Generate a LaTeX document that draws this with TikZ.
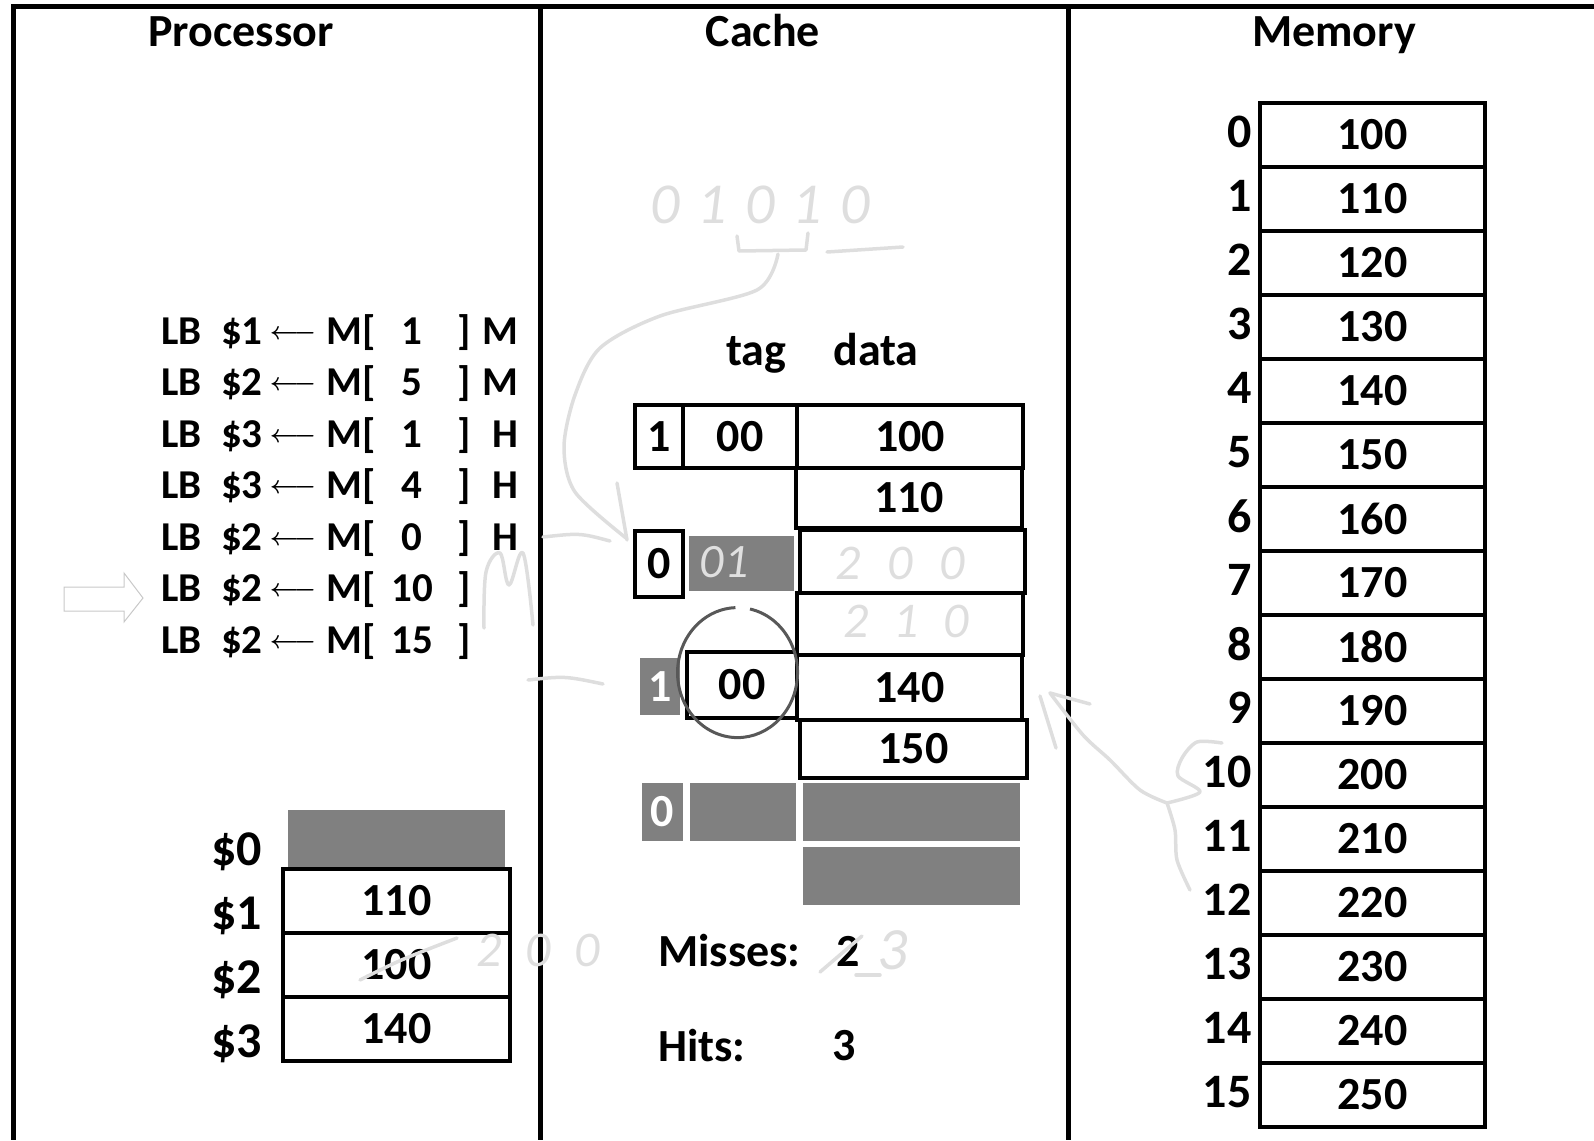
\documentclass[tikz,border=0pt]{standalone}
\usepackage{amsmath}
\usepackage{fontspec}
\setmainfont{Carlito}
\usepackage{tikz}
\usetikzlibrary{positioning}
\definecolor{cellgray}{RGB}{128,128,128}
\definecolor{inkgray}{RGB}{222,222,222}
\definecolor{pengray}{RGB}{88,88,88}
\definecolor{outlinegray}{RGB}{200,200,200}
\newcommand{\cellfont}{\bfseries\fontsize{46}{50}\selectfont}
\newcommand{\instrfont}{\bfseries\fontsize{41}{45}\selectfont}
\newcommand{\labfont}{\bfseries\fontsize{50}{54}\selectfont}
\newcommand{\inkfont}{\itshape\fontsize{50}{54}\selectfont}

\begin{document}
\begin{tikzpicture}[
    x=1pt, y=-1pt,
    frame/.style={line width=5pt},
    cell/.style={rectangle, draw=black, line width=4.5pt, inner sep=0pt, font=\cellfont},
    memcell/.style={cell, minimum width=225pt, minimum height=64pt},
    regcell/.style={cell, minimum width=227pt, minimum height=64pt},
    shade/.style={rectangle, fill=cellgray, inner sep=0pt, font=\cellfont, text=white},
    txt/.style={inner sep=0pt, font=\cellfont},
    idx/.style={inner sep=0pt, font=\bfseries\fontsize{48}{52}\selectfont},
    instr/.style={inner sep=0pt, font=\instrfont},
    reglab/.style={inner sep=0pt, font=\labfont, anchor=base east},
    ink/.style={draw=inkgray, line width=3.5pt, line cap=round, line join=round},
    inktext/.style={inner sep=0pt, text=inkgray, font=\inkfont}
  ]
  \useasboundingbox (0,0) rectangle (1594,1140);

  % frame and columns
  \draw[frame] (11,7) -- (1594,7);
  \draw[frame] (13,5) -- (13,1140);
  \draw[frame] (540,7) -- (540,1140);
  \draw[frame] (1068,7) -- (1068,1140);
  \node[txt, anchor=base] (tproc) at (241,47) {Processor};
  \node[txt, anchor=base] (tcache) at (763,47) {Cache};
  \node[txt, anchor=base] (tmem) at (1334,47) {Memory};

  % memory
  \foreach \i/\v in {0/100,1/110,2/120,3/130,4/140,5/150,6/160,7/170,
                     8/180,9/190,10/200,11/210,12/220,13/230,14/240,15/250} {
    \node[memcell] (mem\i) at (1372.5,{135+64*\i}) {\v};
    \node[idx, left=6pt of mem\i.west, yshift=3pt] (mi\i) {\i};
  }

  % instructions
  \foreach \i/\r/\a/\s in {0/1/1/M,1/2/5/M,2/3/1/H,3/3/4/H,4/2/0/H,5/2/10/,6/2/15/} {
    \node[instr, anchor=base west] (lb\i) at (161,{344+51.5*\i}) {LB};
    \node[instr, anchor=base west] (rg\i) at (221,{344+51.5*\i}) {\$\r};
    \node[instr, anchor=base, yshift=5pt, font=\fontsize{34}{36}\selectfont] (ar\i) at (293,{344+51.5*\i}) {$\boldsymbol{\longleftarrow}$};
    \node[instr, anchor=base west] (mb\i) at (326,{344+51.5*\i}) {M[};
    \node[instr, anchor=base] (ad\i) at (412,{344+51.5*\i}) {\a};
    \node[instr, anchor=base west] (rb\i) at (457,{344+51.5*\i}) {]};
    \node[instr, anchor=base east] (st\i) at (519,{344+51.5*\i}) {\s};
  }
  \draw[outlinegray, line width=1pt] (64,587) -- (124,587) -- (124,573) -- (143,598)
    -- (124,622) -- (124,611) -- (64,611) -- cycle;

  % registers
  \node[shade, minimum width=217pt, minimum height=58pt] (r0) at (396.5,839) {};
  \foreach \i/\v in {1/110,2/100,3/140}
    \node[regcell] (r\i) at (396.5,{837+64*\i}) {\v};
  \foreach \i in {0,...,3}
    \node[reglab] (l\i) at (262,{865+64*\i}) {\$\i};

  % cache
  \node[txt, anchor=base] (htag) at (756,365) {tag};
  \node[txt, anchor=base] (hdata) at (876,365) {data};
  \node[cell, minimum width=48pt, minimum height=63pt] (c1v) at (659,436.5) {1};
  \node[cell, minimum width=114pt, minimum height=63pt] (c1t) at (740,436.5) {00};
  \node[cell, minimum width=226pt, minimum height=63pt] (c1d) at (910,436.5) {100};
  \node[cell, minimum width=226pt, minimum height=60pt] (c2d) at (909,498) {110};
  \node[cell, minimum width=48pt, minimum height=66pt] (c3v) at (659,564) {0};
  \node[shade, draw=white, line width=2pt, minimum width=107pt, minimum height=57pt] (c3t) at (741.5,563.5) {};
  \node[cell, minimum width=225pt, minimum height=63pt] (c3d) at (912.5,561.5) {};
  \node[cell, minimum width=226pt, minimum height=62pt] (c4d) at (910,624) {};
  \node[shade, minimum width=40pt, minimum height=57pt] (c5v) at (660,686.5) {1};
  \node[cell, minimum width=110pt, minimum height=66pt] (c5t) at (742,685) {00};
  \node[cell, minimum width=225pt, minimum height=65pt] (c5d) at (909.5,687.5) {140};
  \node[cell, minimum width=227pt, minimum height=58pt] (c6d) at (913.5,749) {150};
  \node[shade, minimum width=41pt, minimum height=58pt] (c7v) at (662.5,812) {0};
  \node[shade, minimum width=106pt, minimum height=58pt] (c7t) at (743,812) {};
  \node[shade, minimum width=217pt, minimum height=58pt] (c7d) at (911.5,812) {};
  \node[shade, minimum width=217pt, minimum height=58pt] (c8d) at (911.5,876) {};
  \draw[pengray, line width=3pt] (750,609) arc[start angle=-78, end angle=268, x radius=60, y radius=65];

  \node[txt, anchor=west] (miss) at (658,951) {Misses:};
  \node[txt] (nmiss) at (848,951) {2};
  \node[txt, anchor=west] (hits) at (658,1046) {Hits:};
  \node[txt] (nhits) at (844,1046) {3};

  % pen notes
  \node[inktext, font=\itshape\fontsize{58}{60}\selectfont] (addr) at (760,205) {\makebox[220pt][s]{0\hfill1\hfill0\hfill1\hfill0}};
  \draw[ink] (737,236) -- (739,251) -- (806,250) -- (808,233);
  \draw[ink] (827,252) -- (903,247);
  \draw[ink] plot[smooth] coordinates {(778,254) (757,290) (660,316) (600,348) (575,395) (564,447) (575,492) (626,538)};
  \draw[ink] (617,483) -- (627,540);
  \draw[ink] (543,537) .. controls (580,533) .. (610,541);
  \node[inktext, font=\itshape\fontsize{48}{50}\selectfont, text=white!88!black] (t01) at (724,562) {01};
  \node[inktext] (d200) at (900,563) {\makebox[130pt][s]{2\hfill0\hfill0}};
  \node[inktext] (d210) at (906,621) {\makebox[125pt][s]{2\hfill1\hfill0}};
  \draw[ink] plot[smooth, tension=0.6] coordinates {(484,628) (486,572) (500,553) (509,585) (523,553) (533,625)};
  \draw[ink] (528,680) .. controls (565,676) .. (603,684);
  \draw[ink] plot[smooth] coordinates {(1222,743) (1197,742) (1182,758) (1178,776) (1200,792) (1167,803)};
  \draw[ink] plot[smooth] coordinates {(1167,803) (1175,830) (1177,860) (1190,890)};
  \draw[ink] plot[smooth] coordinates {(1167,803) (1140,790) (1110,760) (1083,735) (1050,693)};
  \draw[ink] (1050,693) -- (1090,704);
  \draw[ink] (1040,696) -- (1056,748);
  \draw[ink] (360,980) .. controls (400,960) .. (457,938);
  \node[inktext] (r200) at (538,950) {\makebox[123pt][s]{2\hfill0\hfill0}};
  \draw[ink] (820,972) -- (862,936);
  \draw[ink] (856,975) -- (880,975);
  \node[inktext, font=\itshape\fontsize{60}{62}\selectfont] (m3) at (893,950) {3};
\end{tikzpicture}
\end{document}
